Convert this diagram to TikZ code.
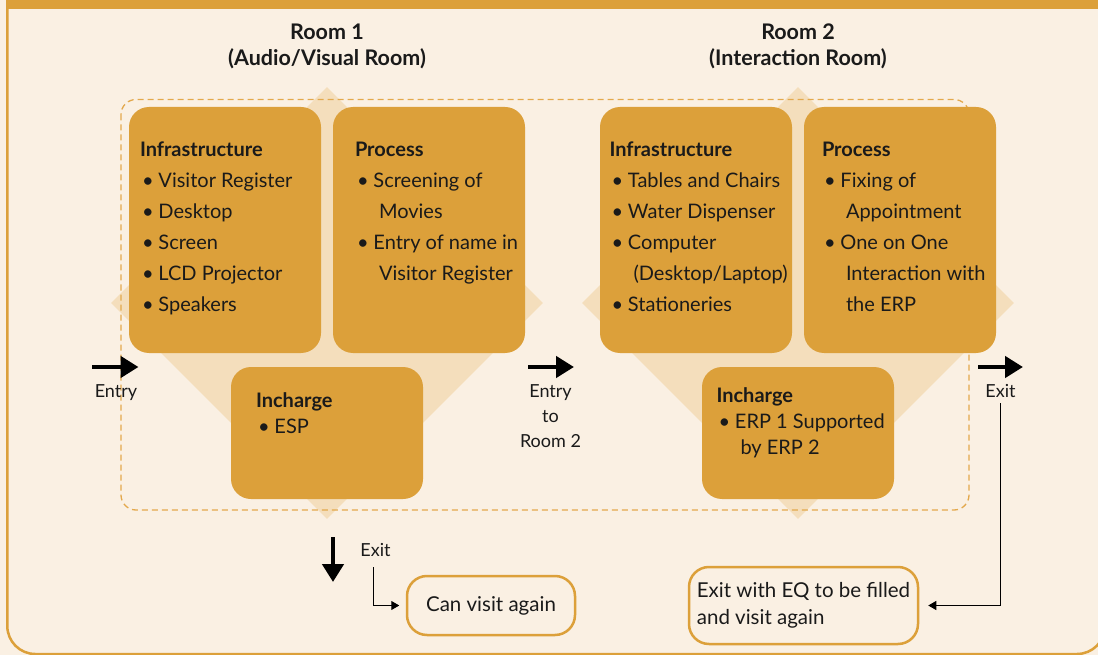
\documentclass[tikz,border=0pt]{standalone}
\usepackage{fontspec}
\setmainfont{Lato}
\usetikzlibrary{arrows.meta,shapes.geometric,positioning}

\definecolor{cream}{HTML}{FAF0E3}
\definecolor{gold}{HTML}{DCA03A}
\definecolor{pale}{HTML}{F4DEBC}
\definecolor{dashgold}{HTML}{E3A94D}
\definecolor{ink}{HTML}{1A1A1A}

\newcommand{\bul}{\makebox[18.5pt][l]{\hspace{2pt}\textbullet}}
\newcommand{\cnt}{\hspace*{24pt}}

\tikzset{
  roombox/.style={fill=gold, rounded corners=20pt, minimum width=192pt, minimum height=246pt, inner sep=0pt},
  chargebox/.style={fill=gold, rounded corners=20pt, minimum width=192pt, minimum height=132pt, inner sep=0pt},
  backdiamond/.style={diamond, fill=pale, minimum width=432pt, minimum height=432pt, inner sep=0pt},
  % multi-line nodes: base is the baseline of the last line
  boxtext/.style={anchor=base west, inner sep=0pt, align=left, text=ink, font=\fontsize{20}{31}\selectfont},
  chargetext/.style={boxtext, font=\fontsize{20}{26}\selectfont},
  title/.style={anchor=base, align=center, inner sep=0pt, text=ink, font=\fontsize{21.5}{26}\selectfont\bfseries},
  flowlabel/.style={anchor=base, align=center, inner sep=0pt, text=ink, font=\fontsize{18}{25}\selectfont},
  bigarrow/.style={line width=4.5pt, -{Triangle[length=18pt,width=21pt]}},
  thinarrow/.style={line width=1pt, -{Triangle[length=8pt,width=9pt]}},
  endbox/.style={draw=gold, line width=2.5pt, fill=cream, rounded corners=20pt, text=ink, align=left, font=\fontsize{20.5}{27}\selectfont}
}

\begin{document}
\begin{tikzpicture}[x=1pt,y=-1pt]
  \useasboundingbox (0,0) rectangle (1098,655);
  \clip (0,0) rectangle (1098,655);
  \fill[cream] (0,0) rectangle (1098,655);

  % frame
  \fill[gold] (6,0) rectangle (1100,9);
  \draw[gold, line width=2.5pt, rounded corners=28pt] (7.3,0) -- (7.3,654) -- (1105,654) -- (1105,0);

  % room titles
  \node[title] (title1) at (327,66) {Room 1\\(Audio/Visual Room)};
  \node[title] (title2) at (798,66) {Room 2\\(Interaction Room)};

  % diamonds behind the rooms
  \node[backdiamond] (dia1) at (327,303) {};
  \node[backdiamond] (dia2) at (798,303) {};

  \draw[dashgold, line width=1.3pt, dash pattern=on 6pt off 4pt, rounded corners=15pt] (121,99.5) rectangle (969,510);

  % room 1
  \node[roombox] (infra1) at (225,230) {};
  \node[roombox] (proc1) at (429,230) {};
  \node[chargebox] (charge1) at (327,433) {};

  \node[boxtext] at ([shift={(11,205)}]infra1.north west)
    {\textbf{Infrastructure}\\\bul Visitor Register\\\bul Desktop\\\bul Screen\\\bul LCD Projector\\\bul Speakers};
  \node[boxtext] at ([shift={(22,174)}]proc1.north west)
    {\textbf{Process}\\\bul Screening of\\\cnt Movies\\\bul Entry of name in\\\cnt Visitor Register};
  \node[chargetext] at ([shift={(25,67)}]charge1.north west)
    {\textbf{Incharge}\\\bul ESP};

  % room 2
  \node[roombox] (infra2) at (696,230) {};
  \node[roombox] (proc2) at (900,230) {};
  \node[chargebox] (charge2) at (798,433) {};

  \node[boxtext] at ([shift={(9.5,205)}]infra2.north west)
    {\textbf{Infrastructure}\\\bul Tables and Chairs\\\bul Water Dispenser\\\bul Computer\\\cnt (Desktop/Laptop)\\\bul Stationeries};
  \node[boxtext] at ([shift={(18,205)}]proc2.north west)
    {\textbf{Process}\\\bul Fixing of\\\cnt Appointment\\\bul One on One\\\cnt Interaction with\\\cnt the ERP};
  \node[chargetext] at ([shift={(14.5,88)}]charge2.north west)
    {\textbf{Incharge}\\\bul ERP 1 Supported\\\cnt by ERP 2};

  % flow
  \node[flowlabel] (entry) at (116,397) {Entry};
  \coordinate (entryA) at (92,367);
  \coordinate (entryB) at (138.5,367);
  \draw[bigarrow] (entryA) -- (entryB);

  \node[flowlabel] (toroom) at (550.5,447) {Entry\\to\\Room 2};
  \coordinate (toroomA) at (528,367);
  \coordinate (toroomB) at (574,367);
  \draw[bigarrow] (toroomA) -- (toroomB);

  \node[flowlabel] (exitR) at (1000.5,397) {Exit};
  \coordinate (exitRA) at (978,367);
  \coordinate (exitRB) at (1023,367);
  \draw[bigarrow] (exitRA) -- (exitRB);

  \node[flowlabel] (exitD) at (375.5,556) {Exit};
  \coordinate (exitDA) at (333,537);
  \coordinate (exitDB) at (333,582);
  \draw[bigarrow] (exitDA) -- (exitDB);

  \node[endbox, minimum width=168pt, minimum height=59pt] (again1) at (491,605.5) {Can visit again};
  \node[endbox, minimum width=229pt, minimum height=77pt] (again2) at (803.5,605.5) {Exit with EQ to be filled\\and visit again};

  \coordinate (elbow1) at (373.5,567);
  \draw[thinarrow] (elbow1) |- ([xshift=-6.5pt]again1.west);
  \draw[thinarrow] ([yshift=-6pt]exitR.base) |- ([xshift=9pt]again2.east);
\end{tikzpicture}
\end{document}
